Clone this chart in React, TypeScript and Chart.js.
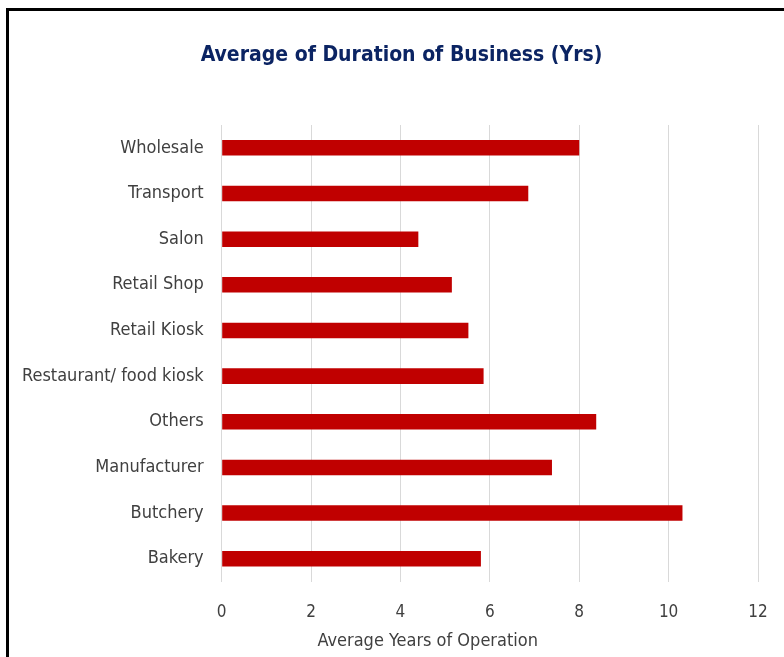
import React, { useEffect, useRef } from "react";
import { Chart, registerables } from "chart.js";

Chart.register(...registerables);

const categories: string[] = [
  "Wholesale",
  "Transport",
  "Salon",
  "Retail Shop",
  "Retail Kiosk",
  "Restaurant/ food kiosk",
  "Others",
  "Manufacturer",
  "Butchery",
  "Bakery",
];
const durationYears: number[] = [8.0, 6.86, 4.4, 5.15, 5.52, 5.86, 8.38, 7.39, 10.31, 5.8];
const xMin = 0;
const xMax = 12;
const xStep = 2;
const chartTitle = "Average of Duration of Business (Yrs)";
const xAxisTitle = "Average Years of Operation";

const FONT = "'DejaVu Sans Condensed', 'Liberation Sans', sans-serif";
const TEXT = "#404040";

const W = 785;
const H = 650;

export default function App() {
  const ref = useRef<HTMLCanvasElement | null>(null);

  useEffect(() => {
    document.documentElement.style.overflow = "hidden";
    document.body.style.overflow = "hidden";
    const canvas = ref.current;
    if (!canvas) return;

    const textPlugin = {
      id: "chartTexts",
      afterDraw(chart: any) {
        const { ctx, chartArea, width } = chart;
        ctx.save();
        ctx.textAlign = "center";
        ctx.textBaseline = "middle";
        // chart title, centred on the whole chart box
        ctx.font = `bold 21px ${FONT}`;
        ctx.fillStyle = "#0B2463";
        ctx.fillText(chartTitle, width / 2, 44.5);
        // value-axis title
        ctx.font = `18px ${FONT}`;
        ctx.fillStyle = TEXT;
        ctx.fillText(xAxisTitle, chartArea.left + 206, chartArea.bottom + 60);
        ctx.restore();
      },
    };

    const chart = new Chart(canvas, {
      type: "bar",
      data: {
        labels: categories,
        datasets: [
          {
            label: chartTitle,
            data: durationYears,
            backgroundColor: "#C00000",
            borderWidth: 0,
            categoryPercentage: 1,
            barPercentage: 0.34,
          },
        ],
      },
      options: {
        indexAxis: "y",
        responsive: false,
        animation: false,
        devicePixelRatio: 1,
        layout: { padding: { left: 0, right: 36, top: 114, bottom: 18 } },
        plugins: {
          legend: { display: false },
          tooltip: { enabled: false },
          title: { display: false },
        },
        scales: {
          x: {
            min: xMin,
            max: xMax,
            border: { display: false },
            grid: { color: "#D9D9D9", lineWidth: 1, drawTicks: false },
            ticks: {
              stepSize: xStep,
              color: TEXT,
              padding: 20.5,
              font: { family: FONT, size: 17 },
            },
          },
          y: {
            border: { display: false },
            grid: { display: false, drawTicks: false },
            ticks: {
              color: TEXT,
              padding: 18,
              font: { family: FONT, size: 18 },
            },
            afterFit: (scale: any) => {
              scale.width = 212.7;
            },
          },
        },
      },
      plugins: [textPlugin],
    });

    return () => chart.destroy();
  }, []);

  return (
    <div
      style={{
        position: "fixed",
        left: 6,
        top: 8,
        width: W,
        height: H,
        borderLeft: "3px solid #000",
        borderTop: "3px solid #000",
        background: "#fff",
      }}
    >
      <canvas ref={ref} width={W} height={H} style={{ display: "block", width: W, height: H }} />
    </div>
  );
}
